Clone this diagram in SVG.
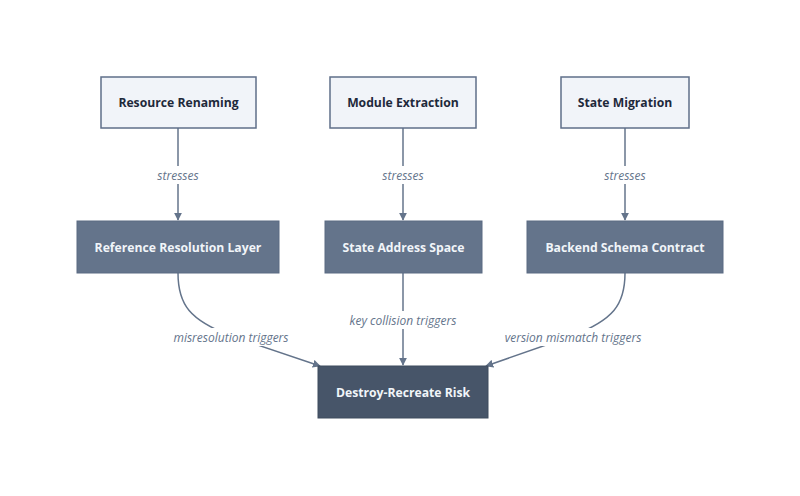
<svg xmlns="http://www.w3.org/2000/svg" width="800" height="496" viewBox="0 0 800 496">
<style>
.top rect{fill:#f1f4f9;stroke:#5f6f89;stroke-width:1.5}
.mid rect{fill:#64748b;stroke:#5a6a82;stroke-width:1}
.bot rect{fill:#475569;stroke:#3f4c5f;stroke-width:1}
.top text{fill:#1e293b}
.mid text,.bot text{fill:#f1f5f9}
text.n{font-family:"Open Sans",sans-serif;font-size:12.2px;font-weight:bold;text-anchor:middle;dominant-baseline:central}
.edges path{fill:none;stroke:#64748b;stroke-width:1.5}
.el{font-family:"Open Sans",sans-serif;font-size:12px;font-style:italic;fill:#64748b;text-anchor:middle;dominant-baseline:central}
.lb{fill:#ffffff}
</style>
<defs>
<marker id="ah" viewBox="0 0 10 10" refX="9" refY="5" markerWidth="8" markerHeight="8" markerUnits="userSpaceOnUse" orient="auto">
<path d="M0,0 L10,5 L0,10 z" fill="#64748b"/>
</marker>
</defs>
<rect width="800" height="496" fill="#ffffff"/>
<g class="edges">
<path d="M178,128 L178,220" marker-end="url(#ah)"/>
<path d="M403,128 L403,220" marker-end="url(#ah)"/>
<path d="M625,128 L625,220" marker-end="url(#ah)"/>
<path d="M178,273 C178,305 190,320 231,336 L320,366" marker-end="url(#ah)"/>
<path d="M403,273 L403,365" marker-end="url(#ah)"/>
<path d="M625,273 C625,305 613,320 572,336 L486,366" marker-end="url(#ah)"/>
<rect class="lb" x="153" y="166" width="50" height="18"/>
<text class="el" x="178" y="175">stresses</text>
<rect class="lb" x="378" y="166" width="50" height="18"/>
<text class="el" x="403" y="175">stresses</text>
<rect class="lb" x="600" y="166" width="50" height="18"/>
<text class="el" x="625" y="175">stresses</text>
<rect class="lb" x="170" y="328" width="122" height="18"/>
<text class="el" x="231" y="337">misresolution triggers</text>
<rect class="lb" x="346" y="311" width="114" height="18"/>
<text class="el" x="403" y="320">key collision triggers</text>
<rect class="lb" x="502" y="328" width="142" height="18"/>
<text class="el" x="573" y="337">version mismatch triggers</text>
</g>
<g id="resource-renaming" class="top"><rect x="101" y="77" width="155" height="51"/><text class="n" x="178.5" y="102.5">Resource Renaming</text></g>
<g id="module-extraction" class="top"><rect x="330" y="77" width="146" height="51"/><text class="n" x="403" y="102.5">Module Extraction</text></g>
<g id="state-migration" class="top"><rect x="561" y="77" width="128" height="51"/><text class="n" x="625" y="102.5">State Migration</text></g>
<g id="reference-resolution-layer" class="mid"><rect x="77" y="221" width="202" height="52"/><text class="n" x="178" y="247">Reference Resolution Layer</text></g>
<g id="state-address-space" class="mid"><rect x="325" y="221" width="157" height="52"/><text class="n" x="403.5" y="247">State Address Space</text></g>
<g id="backend-schema-contract" class="mid"><rect x="527" y="221" width="196" height="52"/><text class="n" x="625" y="247">Backend Schema Contract</text></g>
<g id="destroy-recreate-risk" class="bot"><rect x="318" y="366" width="170" height="52"/><text class="n" x="403" y="392">Destroy-Recreate Risk</text></g>
</svg>
